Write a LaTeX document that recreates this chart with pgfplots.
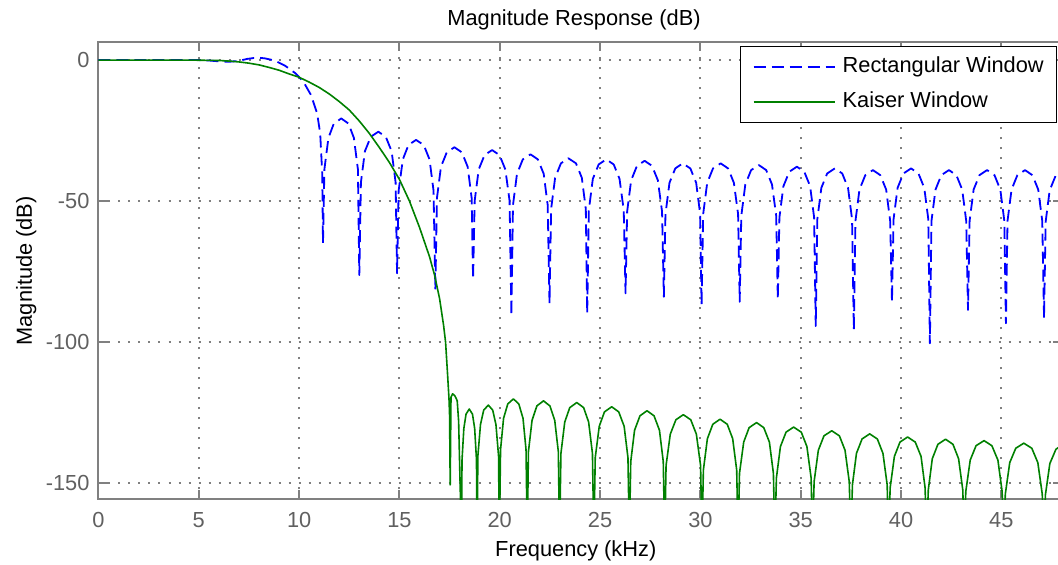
\documentclass[border=0pt]{standalone}
\usepackage{fontspec}
\setmainfont{Liberation Sans}
\usepackage{pgfplots}
\pgfplotsset{compat=1.18}
\definecolor{axisgray}{RGB}{128,128,128}
\definecolor{gridgray}{RGB}{128,128,128}
\definecolor{tickgray}{RGB}{96,96,96}
\definecolor{mblue}{RGB}{0,0,255}
\definecolor{mgreen}{RGB}{0,128,0}
\newcommand{\fs}{\fontsize{10.9}{13}\selectfont}
\begin{document}
\begin{tikzpicture}
\begin{axis}[
    scale only axis,
    width=481.5pt, height=228.5pt,
    xmin=0, xmax=48, ymin=-155.7, ymax=6.3,
    xtick={0,5,...,45}, ytick={-150,-100,-50,0},
    grid=major,
    major grid style={dash pattern=on 1pt off 4pt, line width=1pt, color=gridgray},
    axis line style={draw=axisgray, line width=1pt},
    major tick style={draw=axisgray, line width=1pt},
    major tick length=4.5pt,
    tick align=inside,
    tick label style={font=\fs, text=tickgray},
    /pgf/number format/assume math mode=true,
    xticklabel style={yshift=-3.2pt},
    yticklabel style={xshift=-1pt},
    title={Magnitude Response (dB)},
    % the default title style already adds yshift=6pt
    title style={at={(axis description cs:0.4938,1.0116)}, anchor=base, font=\fs},
    xlabel={Frequency (kHz)},
    xlabel style={at={(axis description cs:0.4956,-0.1241)}, anchor=base, font=\fs},
    ylabel={Magnitude (dB)},
    ylabel style={at={(axis description cs:-0.0692,0.5)}, anchor=base, font=\fs},
    legend cell align=left,
    legend style={at={(axis description cs:0.995,0.9919)}, anchor=north east,
        draw=black, line width=0.5pt, fill=white,
        inner xsep=6.2pt, inner ysep=4.9pt, row sep=7pt, column sep=3.3pt,
        nodes={inner sep=0pt, text height=8pt, text depth=2.5pt, font=\fs}},
    legend image code/.code={\draw[#1] (0pt,0pt) -- (40.8pt,0pt);},
]
% rectangular window
\addplot[mblue, line width=0.9pt, dash pattern=on 6pt off 3pt, line join=round] coordinates {
(0,0) (2,0) (4,0) (5,0) (5.5,-0.15) (6,-0.45) (6.5,-0.6) (7,-0.3) (7.4,0.4) (7.9,0.9) (8.3,0.6)
(8.8,-0.2) (9.3,-2) (9.8,-4.6) (10.2,-7.5) (10.6,-12.5) (10.9,-19) (11.05,-26) (11.15,-40) (11.19,-64.9)
(11.26,-38.7) (11.46,-27.6) (11.73,-22.5) (12.10,-20.7) (12.46,-22.5) (12.73,-27.6) (12.93,-38.7) (13.00,-76.2)
(13.08,-43.4) (13.28,-32.3) (13.57,-27.2) (13.95,-25.4) (14.32,-27.2) (14.61,-32.3) (14.81,-43.4) (14.88,-75.6)
(14.96,-46.3) (15.17,-35.2) (15.45,-30.1) (15.83,-28.3) (16.21,-30.1) (16.50,-35.2) (16.70,-46.3) (16.79,-81.5)
(16.87,-48.9) (17.07,-37.8) (17.36,-32.7) (17.74,-30.9) (18.11,-32.7) (18.40,-37.8) (18.60,-48.9) (18.67,-77.7)
(18.75,-49.9) (18.95,-38.8) (19.24,-33.7) (19.62,-31.9) (19.99,-33.7) (20.28,-38.8) (20.49,-49.9) (20.58,-90.7)
(20.66,-51.4) (20.86,-40.3) (21.15,-35.2) (21.53,-33.4) (21.90,-35.2) (22.19,-40.3) (22.39,-51.4) (22.48,-86.2)
(22.56,-52.8) (22.76,-41.7) (23.05,-36.6) (23.42,-34.8) (23.80,-36.6) (24.09,-41.7) (24.29,-52.8) (24.36,-89.8)
(24.44,-53.2) (24.64,-42.1) (24.93,-37.0) (25.31,-35.2) (25.68,-37.0) (25.97,-42.1) (26.18,-53.2) (26.27,-82.7)
(26.35,-53.7) (26.55,-42.6) (26.84,-37.5) (27.22,-35.7) (27.59,-37.5) (27.88,-42.6) (28.09,-53.7) (28.18,-83.9)
(28.26,-54.6) (28.46,-43.5) (28.75,-38.4) (29.12,-36.6) (29.50,-38.4) (29.79,-43.5) (29.99,-54.6) (30.06,-86.8)
(30.14,-54.6) (30.34,-43.5) (30.63,-38.4) (31.01,-36.6) (31.38,-38.4) (31.67,-43.5) (31.88,-54.6) (31.96,-85.7)
(32.04,-55.2) (32.24,-44.1) (32.53,-39.0) (32.91,-37.2) (33.28,-39.0) (33.57,-44.1) (33.78,-55.2) (33.86,-84.8)
(33.94,-55.8) (34.14,-44.7) (34.43,-39.6) (34.81,-37.8) (35.18,-39.6) (35.47,-44.7) (35.67,-55.8) (35.75,-94.3)
(35.83,-56.4) (36.03,-45.3) (36.32,-40.2) (36.70,-38.4) (37.07,-40.2) (37.36,-45.3) (37.56,-56.4) (37.65,-95.7)
(37.73,-57.0) (37.93,-45.9) (38.22,-40.8) (38.60,-39.0) (38.97,-40.8) (39.26,-45.9) (39.46,-57.0) (39.55,-85.7)
(39.63,-56.4) (39.83,-45.3) (40.12,-40.2) (40.50,-38.4) (40.87,-40.2) (41.16,-45.3) (41.36,-56.4) (41.44,-100.4)
(41.52,-57.0) (41.72,-45.9) (42.01,-40.8) (42.39,-39.0) (42.76,-40.8) (43.05,-45.9) (43.25,-57.0) (43.34,-88.6)
(43.42,-57.0) (43.62,-45.9) (43.91,-40.8) (44.29,-39.0) (44.66,-40.8) (44.95,-45.9) (45.15,-57.0) (45.23,-93.3)
(45.31,-57.0) (45.51,-45.9) (45.80,-40.8) (46.18,-39.0) (46.55,-40.8) (46.84,-45.9) (47.04,-57.0) (47.13,-91.5)
(47.21,-57.3) (47.41,-46.2) (47.70,-41.1) (48.08,-39.3)
};
\addlegendentry{Rectangular Window}
% kaiser window
\addplot[mgreen, line width=0.8pt, line join=round] coordinates {
(0,0) (4,0) (5,-0.05) (6,-0.15) (6.5,-0.35) (7,-0.65) (7.5,-1.1) (8,-1.7) (8.5,-2.6) (9,-3.6)
(9.5,-4.9) (10,-6.1) (10.5,-7.8) (11,-9.7) (11.5,-12) (12,-14.7) (12.5,-17.7) (13,-21.6) (13.5,-26)
(14,-31) (14.5,-36.3) (15,-42.3) (15.5,-50) (16,-59.3) (16.5,-69.7) (16.75,-76.2) (17,-84.5) (17.2,-94)
(17.3,-100) (17.4,-111.5) (17.47,-120) (17.50,-126) (17.53,-150.6) (17.57,-119.5) (17.65,-118.3)
(17.75,-118.9) (17.82,-119.8) (17.88,-120.8) (17.95,-128) (18.09,-170)
(18.12,-141.7) (18.21,-130.6) (18.32,-125.5) (18.48,-123.7) (18.64,-125.5) (18.75,-130.6) (18.84,-141.7) (18.87,-170)
(18.91,-140.3) (19.04,-129.2) (19.20,-124.1) (19.43,-122.3) (19.65,-124.1) (19.81,-129.2) (19.94,-140.3) (19.98,-170)
(20.04,-138.1) (20.19,-127.0) (20.40,-121.9) (20.68,-120.1) (20.95,-121.9) (21.16,-127.0) (21.31,-138.1) (21.37,-170)
(21.43,-138.8) (21.61,-127.7) (21.85,-122.6) (22.18,-120.8) (22.50,-122.6) (22.74,-127.7) (22.92,-138.8) (22.98,-170)
(23.05,-139.4) (23.24,-128.3) (23.49,-123.2) (23.84,-121.4) (24.18,-123.2) (24.43,-128.3) (24.62,-139.4) (24.69,-170)
(24.76,-140.9) (24.96,-129.8) (25.22,-124.7) (25.58,-122.9) (25.93,-124.7) (26.20,-129.8) (26.39,-140.9) (26.46,-170)
(26.53,-142.3) (26.72,-131.2) (26.99,-126.1) (27.34,-124.3) (27.69,-126.1) (27.96,-131.2) (28.15,-142.3) (28.22,-170)
(28.29,-143.7) (28.50,-132.6) (28.78,-127.5) (29.15,-125.7) (29.52,-127.5) (29.80,-132.6) (30.01,-143.7) (30.08,-170)
(30.15,-145.3) (30.35,-134.2) (30.62,-129.1) (30.98,-127.3) (31.34,-129.1) (31.61,-134.2) (31.81,-145.3) (31.88,-170)
(31.95,-146.5) (32.16,-135.4) (32.43,-130.3) (32.80,-128.5) (33.16,-130.3) (33.44,-135.4) (33.64,-146.5) (33.71,-170)
(33.79,-148.1) (33.99,-137.0) (34.27,-131.9) (34.65,-130.1) (35.03,-131.9) (35.31,-137.0) (35.52,-148.1) (35.59,-170)
(35.67,-149.4) (35.88,-138.3) (36.16,-133.2) (36.55,-131.4) (36.93,-133.2) (37.21,-138.3) (37.42,-149.4) (37.50,-170)
(37.58,-150.5) (37.78,-139.4) (38.06,-134.3) (38.44,-132.5) (38.82,-134.3) (39.10,-139.4) (39.31,-150.5) (39.38,-170)
(39.46,-151.6) (39.67,-140.5) (39.95,-135.4) (40.33,-133.6) (40.71,-135.4) (41.00,-140.5) (41.20,-151.6) (41.28,-170)
(41.36,-152.4) (41.56,-141.3) (41.84,-136.2) (42.22,-134.4) (42.59,-136.2) (42.87,-141.3) (43.08,-152.4) (43.15,-170)
(43.23,-152.9) (43.45,-141.8) (43.74,-136.7) (44.14,-134.9) (44.53,-136.7) (44.83,-141.8) (45.04,-152.9) (45.12,-170)
(45.20,-153.8) (45.42,-142.7) (45.72,-137.6) (46.12,-135.8) (46.52,-137.6) (46.82,-142.7) (47.04,-153.8) (47.12,-170)
(47.20,-154) (47.42,-143) (47.72,-138) (48.1,-136)
};
\addlegendentry{Kaiser Window}
\end{axis}
\pgfresetboundingbox
\useasboundingbox (-49.25pt,-32.35pt) rectangle (479.75pt,249.65pt);
\end{tikzpicture}
\end{document}
